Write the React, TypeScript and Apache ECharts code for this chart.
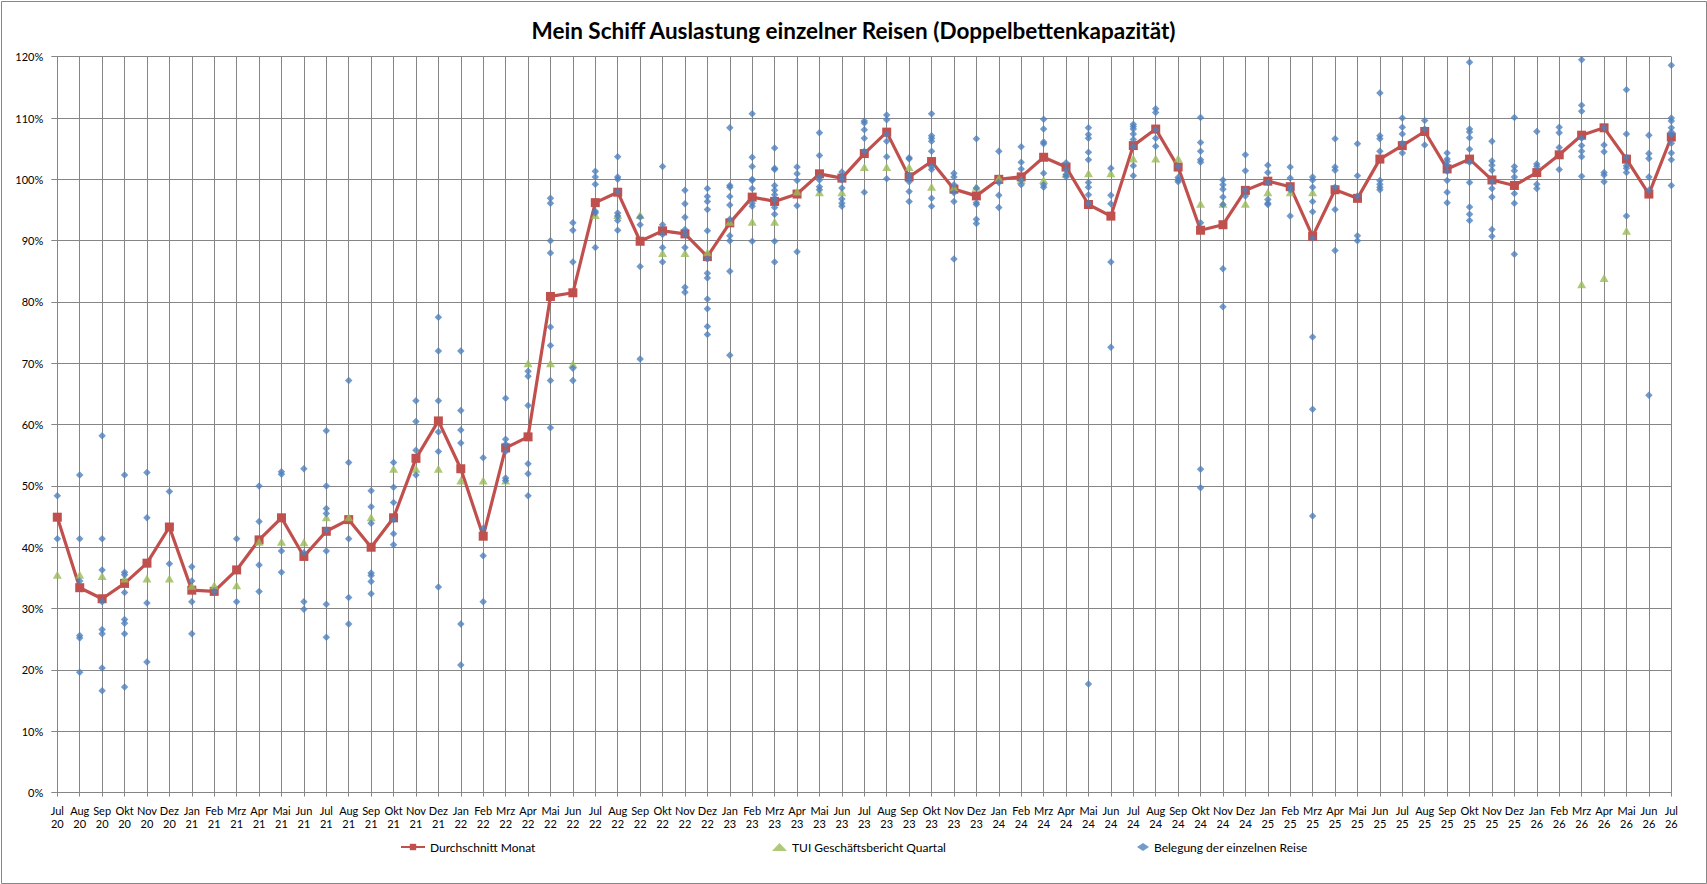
import React, { useEffect, useRef } from "react";
import * as echarts from "echarts";

const months: string[] = [
  "Jul\n20", "Aug\n20", "Sep\n20", "Okt\n20", "Nov\n20", "Dez\n20",
  "Jan\n21", "Feb\n21", "Mrz\n21", "Apr\n21", "Mai\n21", "Jun\n21", "Jul\n21", "Aug\n21", "Sep\n21", "Okt\n21", "Nov\n21", "Dez\n21",
  "Jan\n22", "Feb\n22", "Mrz\n22", "Apr\n22", "Mai\n22", "Jun\n22", "Jul\n22", "Aug\n22", "Sep\n22", "Okt\n22", "Nov\n22", "Dez\n22",
  "Jan\n23", "Feb\n23", "Mrz\n23", "Apr\n23", "Mai\n23", "Jun\n23", "Jul\n23", "Aug\n23", "Sep\n23", "Okt\n23", "Nov\n23", "Dez\n23",
  "Jan\n24", "Feb\n24", "Mrz\n24", "Apr\n24", "Mai\n24", "Jun\n24", "Jul\n24", "Aug\n24", "Sep\n24", "Okt\n24", "Nov\n24", "Dez\n24",
  "Jan\n25", "Feb\n25", "Mrz\n25", "Apr\n25", "Mai\n25", "Jun\n25", "Jul\n25", "Aug\n25", "Sep\n25", "Okt\n25", "Nov\n25", "Dez\n25",
  "Jan\n26", "Feb\n26", "Mrz\n26", "Apr\n26", "Mai\n26", "Jun\n26", "Jul\n26",
];

// Durchschnitt Monat (%)
const durchschnitt: number[] = [
  44.9, 33.4, 31.6, 34.1, 37.4, 43.3,
  33.0, 32.8, 36.3, 41.2, 44.8, 38.5, 42.6, 44.5, 40.0, 44.8, 54.5, 60.6,
  52.8, 41.8, 56.2, 58.0, 80.9, 81.5, 96.2, 97.9, 89.9, 91.6, 91.1, 87.4,
  92.9, 97.1, 96.4, 97.6, 100.9, 100.2, 104.2, 107.7, 100.4, 102.9, 98.4, 97.3,
  100.0, 100.4, 103.6, 102.0, 95.9, 94.0, 105.5, 108.2, 102.0, 91.7, 92.6, 98.2,
  99.7, 98.8, 90.7, 98.3, 96.9, 103.3, 105.5, 107.8, 101.7, 103.3, 99.9, 99.0,
  101.1, 104.0, 107.2, 108.4, 103.3, 97.6, 106.9,
];

// TUI Geschäftsbericht Quartal (%)
const tuiQuartal: (number | null)[] = [
  35.5, 35.5, 35.3, 34.9, 34.9, 34.9,
  33.7, 33.8, 33.8, 40.9, 40.9, 40.8, 44.9, 44.9, 44.9, 52.8, 52.8, 52.8,
  50.9, 50.9, 50.9, 70.0, 70.0, 69.9, 94.2, 94.2, 94.2, 88.0, 88.0, 88.1,
  93.1, 93.1, 93.1, 98.0, 97.9, 97.9, 102.0, 102.0, 102.0, 98.8, 98.7, 98.8,
  100.2, 99.9, 99.9, 101.0, 101.0, 101.0, 103.4, 103.4, 103.4, 96.0, 96.0, 96.0,
  97.9, 97.9, 97.9, null, null, null, null, null, null, null, null, null,
  null, null, 82.9, 83.9, 91.6, null, null,
];

// Belegung der einzelnen Reise (%), one list per month
const reisen: number[][] = [
  [48.4, 41.4],
  [51.8, 41.4, 34.5, 25.6, 25.2, 19.6],
  [58.2, 41.4, 36.3, 31.1, 26.6, 25.9, 20.3, 16.6],
  [51.8, 35.9, 35.5, 32.6, 28.2, 27.6, 25.9, 17.2],
  [52.2, 44.8, 30.9, 21.3],
  [49.1, 37.3],
  [36.8, 34.5, 31.1, 25.9],
  [32.8],
  [41.4, 31.1],
  [50.0, 44.2, 37.1, 32.8],
  [52.3, 51.9, 39.4, 35.9],
  [52.8, 39.1, 31.1, 29.9],
  [59.0, 50.0, 46.3, 45.5, 42.8, 39.4, 30.7, 25.3],
  [67.2, 53.8, 41.4, 31.8, 27.5],
  [49.2, 46.6, 43.9, 35.8, 35.4, 34.4, 32.4],
  [53.8, 49.8, 47.3, 44.5, 42.2, 40.4],
  [63.9, 60.5, 55.8, 51.8],
  [77.5, 72.0, 63.9, 58.8, 55.6, 33.5],
  [72.0, 62.3, 59.1, 57.0, 27.5, 20.8],
  [54.6, 43.1, 38.6, 31.1],
  [64.3, 57.6, 56.8, 55.6, 51.3, 50.9],
  [68.7, 67.9, 63.1, 53.6, 52.0, 48.4],
  [96.9, 96.1, 90.0, 88.0, 75.9, 72.9, 67.2, 59.5],
  [92.9, 91.7, 86.5, 69.2, 67.2],
  [101.3, 100.4, 99.2, 94.8, 94.5, 88.9],
  [103.7, 100.4, 100.0, 98.0, 94.5, 94.0, 93.3, 91.7],
  [93.8, 92.6, 85.8, 70.7],
  [102.1, 92.6, 91.0, 88.9, 86.5],
  [98.2, 96.0, 93.8, 91.8, 91.0, 88.9, 82.4, 81.6],
  [98.5, 97.2, 96.4, 95.1, 91.6, 87.0, 84.7, 83.9, 80.5, 78.9, 76.0, 74.7],
  [108.4, 99.0, 98.7, 97.2, 95.8, 93.5, 90.8, 90.0, 85.0, 71.3],
  [110.7, 103.6, 102.1, 100.0, 99.8, 98.5, 96.1, 95.6, 89.9],
  [105.1, 101.8, 101.6, 99.0, 98.2, 97.5, 96.7, 95.4, 94.3, 89.9, 86.5],
  [102.0, 100.9, 99.8, 95.7, 88.2],
  [107.6, 103.9, 100.4, 99.9, 98.8, 98.3],
  [101.2, 100.4, 99.9, 98.6, 96.8, 96.1, 95.6],
  [109.5, 109.2, 108.1, 106.7, 104.6, 97.9],
  [110.5, 109.7, 107.3, 106.2, 103.7, 100.1],
  [103.5, 103.3, 100.7, 100.0, 99.6, 98.0, 96.4],
  [110.7, 107.1, 106.7, 106.2, 104.6, 102.1, 101.6, 96.9, 95.6],
  [101.0, 100.4, 99.1, 97.8, 96.4, 87.0],
  [106.6, 98.6, 96.2, 95.9, 93.5, 92.8],
  [104.6, 99.5, 97.4, 95.4],
  [105.3, 102.8, 101.7, 99.9, 99.1],
  [109.8, 108.2, 106.1, 105.8, 101.0, 99.1, 98.7],
  [102.7, 101.6, 100.8, 100.4],
  [108.4, 107.3, 106.7, 104.4, 103.2, 99.5, 98.7, 97.5, 96.1, 17.7],
  [101.8, 97.4, 96.0, 86.5, 72.6],
  [109.0, 108.6, 108.2, 107.4, 106.5, 105.3, 102.2, 100.6],
  [111.5, 110.9, 108.1, 106.7, 105.4],
  [102.1, 100.3, 99.9, 99.6],
  [110.1, 106.0, 104.6, 103.2, 102.8, 92.9, 52.7, 49.7],
  [99.9, 99.1, 98.4, 97.1, 95.9, 85.4, 79.2],
  [104.0, 101.4, 98.3, 97.3],
  [102.3, 101.1, 99.5, 96.7, 96.1, 95.9],
  [102.0, 100.2, 98.8, 98.3, 94.0],
  [100.4, 99.9, 98.7, 96.4, 94.7, 90.4, 74.3, 62.5, 45.1],
  [106.6, 102.0, 101.5, 98.7, 95.1, 88.4],
  [105.8, 100.6, 97.3, 90.8, 90.0],
  [114.1, 107.1, 106.6, 104.6, 99.8, 99.2, 98.7, 98.3],
  [110.0, 108.5, 107.4, 105.9, 104.3],
  [109.6, 108.2, 105.6],
  [104.3, 103.3, 102.9, 102.3, 101.3, 99.8, 97.9, 96.2],
  [119.1, 108.2, 107.7, 106.8, 104.9, 102.8, 99.5, 95.5, 94.3, 93.3],
  [106.2, 103.0, 102.3, 101.5, 99.6, 98.5, 97.1, 91.8, 90.7],
  [110.1, 102.1, 101.4, 100.4, 97.7, 96.1, 87.8],
  [107.8, 102.5, 102.1, 99.2, 98.5],
  [108.5, 107.6, 105.2, 101.6],
  [119.5, 112.1, 111.1, 106.7, 105.5, 104.6, 103.7, 100.5],
  [108.4, 105.6, 104.5, 101.1, 100.7, 99.6],
  [114.6, 107.4, 103.6, 102.2, 101.8, 101.1, 94.0],
  [107.2, 104.2, 103.4, 100.4, 98.2, 64.8],
  [118.6, 110.0, 109.5, 108.4, 107.7, 107.3, 105.9, 104.3, 103.2, 99.0],
];

const TITLE = "Mein Schiff Auslastung einzelner Reisen (Doppelbettenkapazität)";
const NAME_AVG = "Durchschnitt Monat";
const NAME_TUI = "TUI Geschäftsbericht Quartal";
const NAME_REISE = "Belegung der einzelnen Reise";

const GRID_COLOR = "#868686";
const FONT = "Lato, 'Noto Sans', sans-serif";

export default function App() {
  const ref = useRef<HTMLDivElement>(null);

  useEffect(() => {
    if (!ref.current) return;
    const chart = echarts.init(ref.current, undefined, { renderer: "svg" });

    const tuiData = tuiQuartal
      .map((v, i) => (v == null ? null : [i, v]))
      .filter((d) => d !== null);
    const reiseData: number[][] = [];
    reisen.forEach((vals, i) => vals.forEach((v) => reiseData.push([i, v])));

    const legendText = { fontFamily: FONT, fontSize: 12, color: "#000" };

    chart.setOption({
      animation: false,
      textStyle: { fontFamily: FONT },
      title: {
        text: TITLE,
        left: "center",
        top: 14,
        textStyle: { fontFamily: FONT, fontSize: 22.5, fontWeight: "bold", color: "#000" },
      },
      graphic: [
        {
          type: "rect",
          shape: { x: 1.5, y: 1.5, width: 1705, height: 882 },
          style: { fill: "none", stroke: GRID_COLOR, lineWidth: 1 },
          silent: true,
        },
      ],
      legend: [
        {
          data: [NAME_AVG],
          left: 395,
          top: 836,
          itemWidth: 24,
          itemHeight: 8,
          textStyle: legendText,
        },
        {
          data: [NAME_TUI],
          left: 767,
          top: 836,
          itemWidth: 15,
          itemHeight: 8,
          textStyle: legendText,
        },
        {
          data: [NAME_REISE],
          left: 1132,
          top: 836,
          itemWidth: 12,
          itemHeight: 8,
          textStyle: legendText,
        },
      ],
      grid: { left: 57.3, right: 35.7, top: 56.7, bottom: 91.5, containLabel: false },
      xAxis: {
        type: "category",
        data: months,
        boundaryGap: false,
        axisLine: { show: true, lineStyle: { color: GRID_COLOR, width: 1 } },
        axisTick: { show: true, interval: 0, length: 4, lineStyle: { color: GRID_COLOR } },
        splitLine: { show: true, interval: 0, lineStyle: { color: GRID_COLOR, width: 1 } },
        axisLabel: {
          interval: 0,
          hideOverlap: false,
          margin: 11,
          fontSize: 11,
          lineHeight: 13,
          color: "#000",
          fontFamily: FONT,
        },
      },
      yAxis: {
        type: "value",
        min: 0,
        max: 120,
        interval: 10,
        axisLine: { show: true, lineStyle: { color: GRID_COLOR, width: 1 } },
        axisTick: { show: true, length: 6, lineStyle: { color: GRID_COLOR } },
        splitLine: { show: true, lineStyle: { color: GRID_COLOR, width: 1 } },
        axisLabel: {
          formatter: "{value}%",
          margin: 14,
          fontSize: 11,
          color: "#000",
          fontFamily: FONT,
        },
      },
      series: [
        {
          name: NAME_AVG,
          type: "line",
          data: durchschnitt,
          symbol: "rect",
          symbolSize: 9,
          showAllSymbol: true,
          lineStyle: { color: "#C0504D", width: 3.2 },
          itemStyle: { color: "#C0504D" },
          z: 2,
        },
        {
          name: NAME_TUI,
          type: "scatter",
          data: tuiData,
          symbol: "triangle",
          symbolSize: [9, 8],
          itemStyle: { color: "#9BBB59" },
          z: 3,
        },
        {
          name: NAME_REISE,
          type: "scatter",
          data: reiseData,
          symbol: "diamond",
          symbolSize: 7.5,
          itemStyle: { color: "#4F81BD" },
          z: 4,
        },
      ],
    });

    return () => {
      chart.dispose();
    };
  }, []);

  return (
    <div
      ref={ref}
      style={{ position: "absolute", left: 0, top: 0, width: 1707, height: 884, background: "#fff" }}
    />
  );
}
